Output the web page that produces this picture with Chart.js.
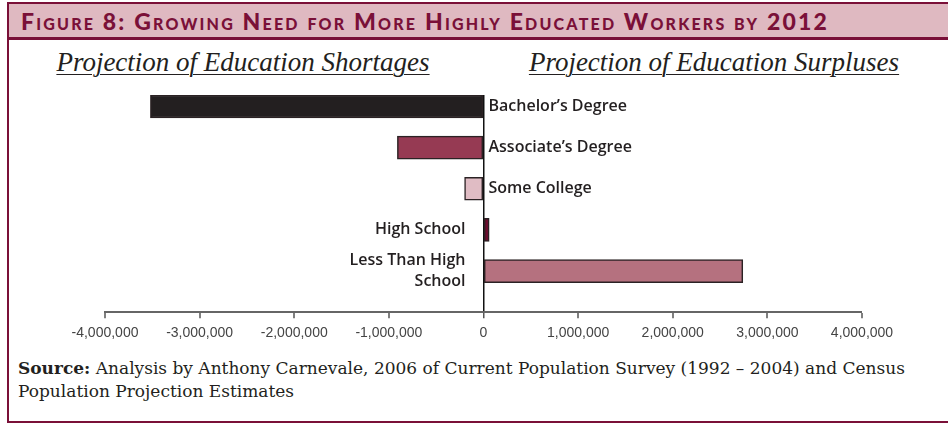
<!DOCTYPE html>
<html lang="en">
<head>
  <meta charset="UTF-8">
  <title>Growing Need for More Highly Educated Workers by 2012</title>
  <style>
    body {
      margin: 0;
      background: #fff;
    }

    #figure {
      position: relative;
      width: 948px;
      height: 424px;
      overflow: hidden;
    }

    #frame {
      position: absolute;
      left: 7px;
      top: 2px;
      right: 0;
      bottom: 1px;
      border-left: 2px solid #7a1038;
      border-bottom: 2px solid #7a1038;
    }

    #titleBar {
      position: absolute;
      left: 7px;
      top: 2px;
      right: 0;
      height: 38px;
      box-sizing: border-box;
      background: #dfb9c1;
      border-top: 2px solid #7a1038;
      border-bottom: 3px solid #7a1038;
      border-left: 2px solid #7a1038;
      padding-left: 12px;
      font-family: Lato, sans-serif;
      font-weight: 900;
      font-variant: small-caps;
      font-size: 23px;
      letter-spacing: 2.2px;
      line-height: 35px;
      color: #7a1038;
      white-space: nowrap;
    }

    .heading {
      position: absolute;
      top: 47px;
      width: 440px;
      text-align: center;
      font-family: "Liberation Serif", serif;
      font-style: italic;
      font-size: 27px;
      color: #231f20;
      text-decoration: underline;
      text-decoration-thickness: 1px;
      text-underline-offset: 3px;
    }

    #chart {
      position: absolute;
      left: 0;
      top: 0;
    }

    #source {
      position: absolute;
      left: 18px;
      top: 357px;
      width: 925px;
      font-family: "DejaVu Serif", serif;
      font-size: 17px;
      line-height: 23px;
      color: #231f20;
      white-space: nowrap;
    }
  </style>
</head>

<body>
  <div id="figure">
    <div id="frame"></div>
    <div id="titleBar">Figure 8: Growing Need for More Highly Educated Workers by 2012</div>
    <div class="heading" style="left: 23px;">Projection of Education Shortages</div>
    <div class="heading" style="left: 494px;">Projection of Education Surpluses</div>
    <canvas id="chart" width="948" height="350"></canvas>
    <div id="source"><b>Source:</b> Analysis by Anthony Carnevale, 2006 of Current Population Survey (1992 – 2004) and Census<br>Population Projection Estimates</div>
  </div>

  <script src="https://cdn.jsdelivr.net/npm/chart.js"></script>
  <script>
    // education levels, top to bottom (split where the label wraps)
    const categories = [
      ['Bachelor’s Degree'],
      ['Associate’s Degree'],
      ['Some College'],
      ['High School'],
      ['Less Than High', 'School']
    ];
    // projected shortage (-) / surplus (+) of workers
    const values = [-3520000, -910000, -200000, 60000, 2740000];
    const barColors = ['#231f20', '#963a53', '#e0bcc4', '#6b0d2e', '#b5717f'];

    // education labels sit beside the zero line, on the side away from the bar
    const categoryLabels = {
      id: 'categoryLabels',
      afterDatasetsDraw(chart) {
        const { ctx, scales: { x, y } } = chart;
        const zero = x.getPixelForValue(0);
        ctx.save();
        ctx.font = '600 16px "Open Sans", sans-serif';
        ctx.fillStyle = '#231f20';
        ctx.textBaseline = 'middle';
        categories.forEach((lines, i) => {
          const yc = y.getPixelForValue(i);
          const onLeft = values[i] > 0;
          ctx.textAlign = onLeft ? 'right' : 'left';
          const xPos = onLeft ? zero - 18 : zero + 5;
          lines.forEach((line, j) => {
            ctx.fillText(line, xPos, yc + (j - (lines.length - 1) / 2) * 21);
          });
        });
        ctx.restore();
      }
    };

    new Chart(document.getElementById('chart'), {
      type: 'bar',
      data: {
        datasets: [{
          data: values.map((v, i) => ({ x: v, y: i })),
          backgroundColor: barColors,
          borderColor: '#2b2224',
          borderWidth: 1.5,
          borderSkipped: false,
          barThickness: 23
        }]
      },
      options: {
        indexAxis: 'y',
        responsive: false,
        animation: false,
        layout: { padding: { left: 105, right: 86, top: 95, bottom: 1 } },
        plugins: {
          legend: { display: false },
          tooltip: { enabled: false }
        },
        scales: {
          y: {
            type: 'linear',
            reverse: true,
            offset: false,
            min: -0.28,
            max: 5.0,
            display: false
          },
          x: {
            type: 'linear',
            min: -4000000,
            max: 4000000,
            border: { display: true, color: '#666', width: 2 },
            grid: {
              drawOnChartArea: true,
              color: ctx => ctx.tick && ctx.tick.value === 0 ? '#111' : 'rgba(0,0,0,0)',
              lineWidth: ctx => ctx.tick && ctx.tick.value === 0 ? 1.5 : 0,
              tickColor: '#555',
              tickWidth: 1.5,
              tickLength: 6
            },
            ticks: {
              stepSize: 1000000,
              padding: 7,
              color: '#444',
              font: { family: '"Liberation Sans Narrow", "Arial Narrow", sans-serif', size: 14 },
              callback: v => v.toLocaleString('en-US')
            }
          }
        }
      },
      plugins: [categoryLabels]
    });
  </script>
</body>
</html>
